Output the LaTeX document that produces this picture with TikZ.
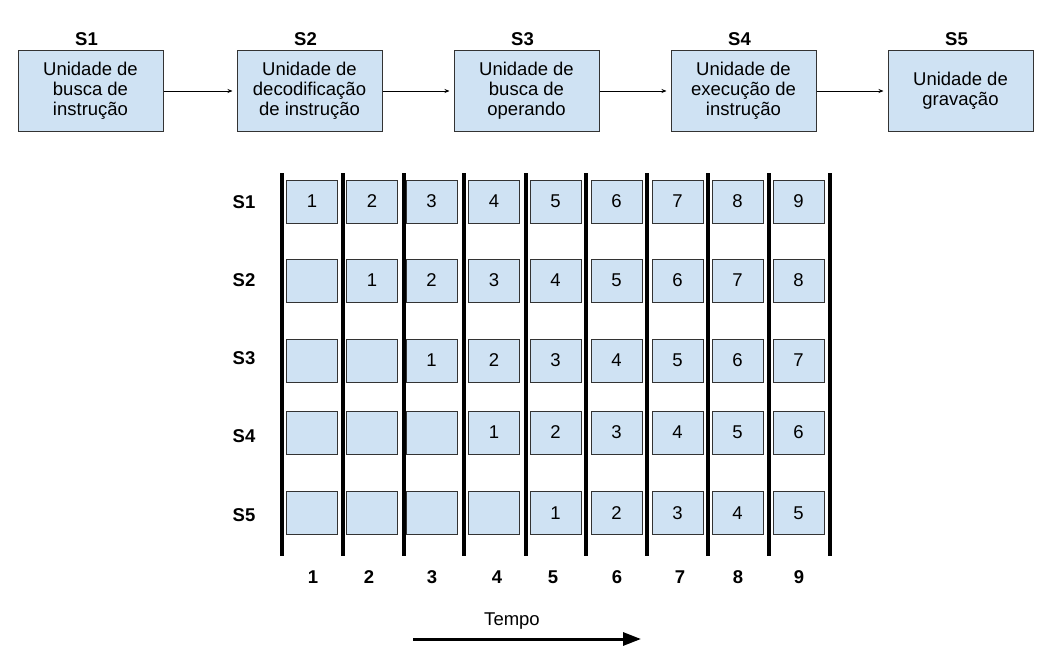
\documentclass[tikz,border=0pt]{standalone}
\usepackage{fontspec}
\setmainfont{Liberation Sans}
\usetikzlibrary{arrows.meta}
\definecolor{cellblue}{HTML}{CFE2F3}
\definecolor{edgegray}{HTML}{333333}
\begin{document}
\begin{tikzpicture}[x=1pt,y=-1pt,
  unitbox/.style={draw=edgegray,line width=1pt,fill=cellblue,minimum width=145pt,minimum height=80pt,inner sep=0pt,align=center,font=\fontsize{18.5}{20}\selectfont},
  cellbox/.style={draw=edgegray,line width=1pt,fill=cellblue,minimum width=51pt,minimum height=43pt,inner sep=0pt,font=\fontsize{18.5}{20}\selectfont},
  blabel/.style={font=\fontsize{18.5}{20}\selectfont\bfseries,inner sep=0pt},
  flow/.style={-{Stealth[length=5pt,width=4pt]},line width=0.8pt,shorten >=4pt},
  bar/.style={line width=4pt},
  timearrow/.style={-{Triangle[length=18pt,width=13pt]},line width=3pt}]
\useasboundingbox (0,0) rectangle (1052,661);
% top pipeline units
\node[unitbox] (u1) at (90.5,91) {Unidade de\\busca de\\instrução};
\node[unitbox] (u2) at (309.5,91) {Unidade de\\decodificação\\de instrução};
\node[unitbox] (u3) at (526.5,91) {Unidade de\\busca de\\operando};
\node[unitbox] (u4) at (743.5,91) {Unidade de\\execução de\\instrução};
\node[unitbox] (u5) at (960.5,91) {Unidade de\\gravação};
\foreach \i in {1,...,5}{
  \node[blabel] (t\i) at ([xshift=-4pt,yshift=11pt]u\i.north) {S\i};
}
\draw[flow] (u1) -- (u2);
\draw[flow] (u2) -- (u3);
\draw[flow] (u3) -- (u4);
\draw[flow] (u4) -- (u5);
% vertical bars
\foreach \x in {282,343,404,464,526,586,647,708,769,830}{
  \draw[bar] (\x,173) -- (\x,556);
}
% rows
\foreach \r/\y/\ly in {1/201.5/202,2/280.5/280,3/360.5/358,4/432.5/436,5/513/515}{
  \node[blabel] (s\r) at (244,\ly) {S\r};
  \foreach \c/\x in {1/312,2/372,3/431.5,4/494,5/555.5,6/616.5,7/677.5,8/737.5,9/798.5}{
    \pgfmathtruncatemacro{\v}{\c-\r+1}
    \ifnum\v>0
      \node[cellbox] (c\r-\c) at (\x,\y) {\v};
    \else
      \node[cellbox] (c\r-\c) at (\x,\y) {};
    \fi
  }
}
% column labels
\foreach \c/\x in {1/313,2/369,3/432,4/497,5/553,6/617,7/680,8/738,9/799}{
  \node[blabel] (k\c) at (\x,577) {\c};
}
% time
\node[font=\fontsize{18.5}{20}\selectfont,inner sep=0pt] (tempo) at (512,621) {Tempo};
\coordinate (ta) at (413,639);
\coordinate (tb) at (641,639);
\draw[timearrow] (ta) -- (tb);
\end{tikzpicture}
\end{document}
